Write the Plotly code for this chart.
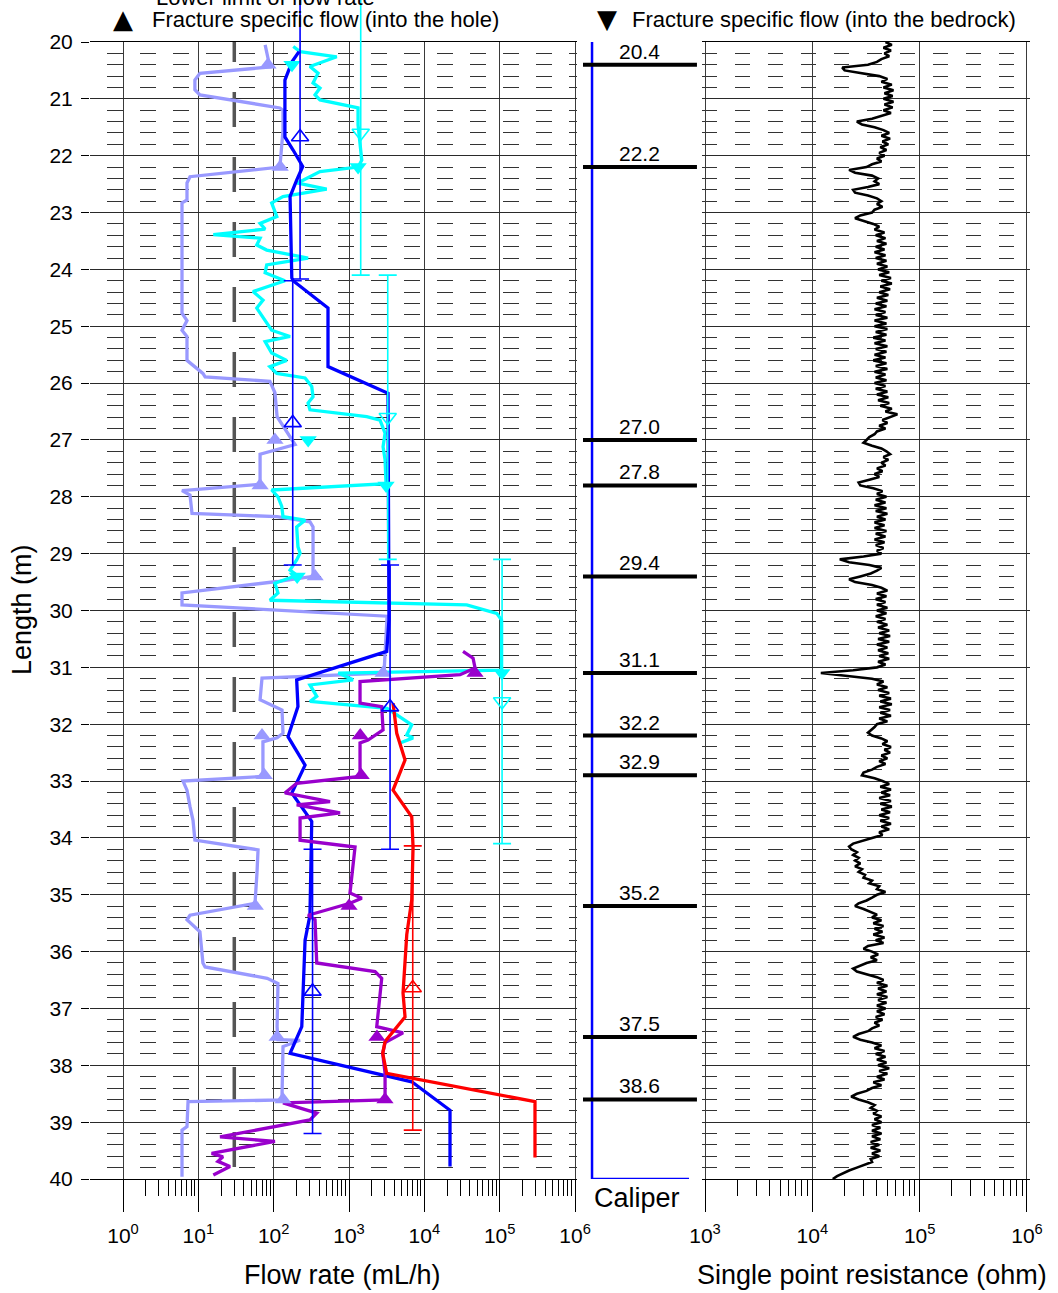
import plotly.graph_objects as go

W, H = 1058, 1293
FONT = "Liberation Sans, Arial, sans-serif"

# ---------------- data ----------------
fracture_depths = [20.4, 22.2, 27.0, 27.8, 29.4, 31.1, 32.2, 32.9, 35.2, 37.5, 38.6]
fracture_labels = ["20.4", "22.2", "27.0", "27.8", "29.4", "31.1", "32.2", "32.9", "35.2", "37.5", "38.6"]

lower_limit_flow = 30  # mL/h

# flow profile 1 (light purple)
lav_depth = [20.05, 20.44, 20.55, 20.67, 20.84, 20.93, 21.16, 21.2, 21.55, 21.72, 22.2, 22.37, 22.48,
             22.78, 22.83, 24.77, 24.9, 25.07, 25.18, 25.6, 25.83, 25.89, 25.97, 26.17, 26.59, 27.08,
             27.25, 27.78, 27.89, 27.97, 28.29, 28.35, 28.44, 28.53, 29.4, 29.49, 29.69, 29.9, 30.1,
             31.1, 31.13, 31.19, 31.57, 31.75, 32.16, 32.24, 32.31, 32.92, 33.0, 33.16, 33.45, 33.69,
             34.04, 34.21, 34.62, 35.15, 35.36, 35.44, 35.65, 36.2, 36.27, 36.47, 36.56, 37.32, 37.55,
             37.56, 37.67, 38.55, 38.61, 38.64, 39.08, 39.14, 39.96]
lav_flow = [77, 89, 10.5, 9.0, 9.0, 10.5, 121, 133, 133, 129, 121, 7.75, 7.07,
            7.07, 6.07, 6.07, 7.07, 6.07, 7.07, 7.07, 11.5, 12.3, 89, 104, 111, 192,
            66, 66, 6.07, 7.75, 8.24, 111, 303, 333, 333, 111, 6.07, 6.07, 3200,
            2915, 693, 70, 66, 129, 133, 111, 72, 72, 6.26, 7.07, 7.75, 8.5,
            9.0, 62, 60, 56.5, 7.75, 7.07, 10.5, 11.5, 12.3, 82, 114, 111, 114,
            224, 133, 129, 133, 7.3, 7.07, 6.07, 6.07]

# flow profile 2 (blue)
blue_depth = [20.17, 20.35, 20.67, 21.67, 21.9, 22.19, 22.43, 22.72, 24.15, 24.2, 24.68, 25.71, 26.18,
              30.17, 30.72, 31.22, 31.69, 32.22, 32.72, 33.21, 33.71, 35.36, 35.8, 36.79, 37.32, 37.79,
              38.29, 38.79, 39.78]
blue_flow = [217, 175, 141, 141, 181, 243, 202, 165, 174, 181, 526, 526, 3296,
             3390, 3165, 202, 210, 155, 261, 174, 320, 303, 261, 245, 236, 165,
             6800, 21900, 21900]

# flow profile 3 (cyan)
cyan_depth = [20.08, 20.17, 20.26, 20.43, 20.55, 20.72, 20.81, 20.93, 21.02, 21.16, 21.46, 22.08, 22.2,
              22.28, 22.43, 22.48, 22.59, 22.72, 22.83, 23.07, 23.19, 23.29, 23.39, 23.45, 23.57, 23.66,
              23.8, 23.92, 24.06, 24.2, 24.39, 24.54, 24.68, 25.07, 25.18, 25.27, 25.47, 25.6, 25.71,
              25.83, 25.91, 26.06, 26.24, 26.35, 26.47, 26.59, 26.65, 26.88, 27.12, 27.35, 27.77, 27.88,
              28.0, 28.17, 28.35, 28.41, 28.53, 28.88, 28.99, 29.11, 29.29, 29.38, 29.52, 29.69, 29.82,
              29.87, 29.9, 30.05, 30.17, 30.99, 31.05, 31.1, 31.16, 31.22, 31.31, 31.51, 31.6, 31.72,
              32.01, 32.19, 32.24, 32.33]
cyan_flow = [182, 224, 687, 303, 388, 333, 412, 354, 412, 1318, 1318, 1476, 1318,
             412, 245, 202, 506, 133, 94, 110, 66, 77, 15.8, 66, 59.6, 80.8,
             286, 80.8, 77, 141, 53.2, 72.2, 59.6, 94, 165, 77, 94, 149, 89,
             110, 261, 320, 333, 286, 303, 1718, 2580, 3010, 2830, 3010, 3100, 94,
             114, 128, 133, 261, 202, 210, 224, 202, 165, 204, 104, 114, 89,
             3200, 36500, 91400, 106000, 106000, 107000, 721, 933, 1130, 303, 373, 303, 3200,
             6800, 5840, 7080, 4755]

# flow profile 4 (purple)
purple_depth = [30.72, 30.84, 31.01, 31.13, 31.25, 31.63, 31.69, 32.1, 32.28, 32.33, 32.92, 33.04, 33.21,
                33.36, 33.42, 33.56, 33.65, 34.04, 34.16, 34.97, 35.06, 35.15, 35.36, 35.44, 36.2, 36.35,
                36.47, 37.32, 37.43, 37.6, 37.79, 38.14, 38.61, 38.66, 38.84, 38.96, 39.26, 39.34, 39.55,
                39.61, 39.69, 39.78, 39.93]
purple_flow = [32600, 44300, 47100, 29800, 1400, 1400, 2717, 2830, 1787, 1400, 1400, 202, 141,
               560, 202, 760, 224, 224, 1202, 1030, 1476, 1030, 286, 354, 373, 2214,
               2717, 2333, 5210, 3010, 2800, 3010, 3010, 133, 373, 303, 19.4, 104, 15,
               21.2, 18.2, 26.3, 15.8]

# flow profile 5 (red)
red_depth = [31.63, 31.93, 32.16, 32.63, 33.16, 33.63, 34.16, 35.09, 35.7, 36.73, 37.15, 37.58, 37.79,
             38.14, 38.64, 39.62]
red_flow = [3840, 4080, 4300, 5540, 3840, 6800, 7080, 6800, 5840, 5210, 5540, 3010, 2800,
            3160, 294000, 294000]

# fracture specific flow (filled markers)
lav_frac_depth = [20.4, 22.2, 27.0, 27.8, 29.4, 31.1, 32.2, 32.9, 35.2, 37.5, 38.6]
lav_frac_flow = [84, 122, 104, 66, 355, 2830, 70, 75, 57, 111, 133]
cyan_frac_depth = [20.4, 22.2, 27.0, 27.8, 29.4, 31.1]
cyan_frac_flow = [175, 1320, 287, 3100, 205, 107000]
purple_frac_depth = [31.1, 32.2, 32.9, 35.2, 37.5, 38.6]
purple_frac_flow = [47000, 1410, 1450, 1000, 2350, 3000]

# 5 m section flows (open markers, bar = section length)
section_half = 2.5
blue_sec_depth = [21.67, 26.7, 31.7, 36.7]
blue_sec_flow = [224, 179, 3505, 328]
cyan_sec_depth = [21.6, 26.6, 31.6]
cyan_sec_flow = [1430, 3265, 107500]
red_sec_depth = [36.64]
red_sec_flow = [7010]

# caliper (relative units)
caliper_depth = [20, 40, 40]
caliper_value = [0.115, 0.115, 0.91]

# single point resistance (kOhm), every 0.05 m from 20.00 to 40.00 (one row per metre)
spr_kohm = [
    48, 55, 46, 54, 47, 52, 44, 40, 33, 19, 20, 30, 42, 50, 44, 55, 46, 57, 47, 56,
    46, 57, 47, 56, 46, 54, 44, 36, 26, 29, 38, 46, 52, 44, 53, 45, 51, 43, 49, 42,
    47, 40, 44, 36, 32, 22, 25, 36, 41, 38, 42, 33, 24, 25, 33, 40, 44, 40, 45, 38,
    36, 28, 25, 31, 37, 42, 38, 47, 39, 48, 40, 49, 39, 47, 38, 48, 39, 49, 40, 50,
    41, 52, 42, 54, 44, 55, 43, 53, 42, 51, 40, 50, 39, 49, 38, 48, 39, 50, 38, 49,
    38, 50, 39, 49, 37, 48, 38, 50, 39, 49, 38, 48, 37, 49, 39, 50, 38, 48, 39, 49,
    38, 48, 39, 50, 40, 51, 41, 52, 43, 55, 48, 62, 52, 45, 50, 42, 48, 40, 38, 34,
    32, 30, 36, 44, 49, 53, 46, 51, 44, 48, 40, 45, 38, 42, 34, 27, 28, 37, 45, 40,
    49, 39, 48, 38, 49, 39, 50, 40, 48, 38, 47, 38, 49, 39, 48, 38, 47, 39, 46, 40,
    44, 30, 18, 22, 34, 44, 40, 35, 28, 22, 25, 36, 44, 50, 40, 49, 39, 48, 40, 50,
    40, 49, 39, 48, 40, 50, 41, 52, 42, 53, 41, 52, 40, 50, 41, 51, 42, 52, 41, 48,
    40, 24, 12, 22, 36, 46, 40, 50, 41, 52, 42, 54, 43, 55, 42, 53, 43, 54, 42, 50,
    40, 38, 35, 33, 36, 44, 50, 45, 54, 47, 53, 44, 50, 42, 48, 40, 36, 30, 29, 38,
    45, 52, 43, 54, 44, 53, 42, 54, 43, 55, 44, 53, 42, 52, 43, 54, 44, 52, 42, 45,
    36, 30, 24, 22, 23, 26, 24, 27, 25, 28, 25, 29, 27, 31, 30, 36, 34, 42, 40, 48,
    40, 36, 32, 27, 25, 30, 35, 40, 36, 44, 37, 46, 38, 45, 37, 47, 39, 46, 33, 30,
    36, 41, 35, 40, 32, 28, 24, 26, 32, 40, 46, 40, 50, 41, 49, 40, 50, 41, 49, 40,
    48, 40, 47, 39, 45, 38, 42, 36, 33, 27, 24, 28, 36, 44, 38, 47, 39, 48, 40, 49,
    41, 52, 42, 50, 40, 47, 37, 44, 36, 32, 26, 23, 27, 33, 38, 35, 40, 37, 44, 38,
    44, 36, 43, 36, 44, 36, 43, 35, 42, 35, 43, 36, 42, 35, 36, 30, 26, 22, 19, 17,
    15.5]
spr_ohm = [v * 1000 for v in spr_kohm]
spr_depth = [round(20 + 0.05 * i, 2) for i in range(len(spr_kohm))]

flow_ticks = [1, 10, 100, 1000, 10000, 100000, 1000000]
flow_ticktext = ["10<sup>0</sup>", "10<sup>1</sup>", "10<sup>2</sup>", "10<sup>3</sup>",
                 "10<sup>4</sup>", "10<sup>5</sup>", "10<sup>6</sup>"]
res_ticks = [1000, 10000, 100000, 1000000]
res_ticktext = ["10<sup>3</sup>", "10<sup>4</sup>", "10<sup>5</sup>", "10<sup>6</sup>"]

# ---------------- colours ----------------
LAV = "#9999FF"
BLUE = "#0000FF"
CYAN = "#00FFFF"
PURPLE = "#9900CC"
RED = "#FF0000"

# ---------------- layout geometry (pixels) ----------------
Y_TOP, Y_BOT = 42, 1179
L_X0, L_X1 = 90, 577.3
M_X0, M_X1 = 578, 700
R_X0, R_X1 = 701.8, 1030.2
PX_PER_M = (Y_BOT - Y_TOP) / 20.0
Y_TOP_EXT = 20 - Y_TOP / PX_PER_M   # depth at the very top of the page


def fx(p):
    return p / W


def fy(p):
    return 1 - p / H


fig = go.Figure()

# lower limit line
fig.add_trace(go.Scatter(x=[lower_limit_flow, lower_limit_flow], y=[19.736, 40], mode="lines",
                         line=dict(color="#555555", width=3.5, dash="35px,30px"),
                         xaxis="x", yaxis="y", hoverinfo="skip"))

# flow profiles
for d, v, c in [(lav_depth, lav_flow, LAV), (cyan_depth, cyan_flow, CYAN),
                (blue_depth, blue_flow, BLUE), (purple_depth, purple_flow, PURPLE),
                (red_depth, red_flow, RED)]:
    fig.add_trace(go.Scatter(x=v, y=d, mode="lines", line=dict(color=c, width=3.3),
                             xaxis="x", yaxis="y"))

# fracture specific flows
for d, v, c, sym in [(lav_frac_depth, lav_frac_flow, LAV, "triangle-up"),
                     (cyan_frac_depth, cyan_frac_flow, CYAN, "triangle-down"),
                     (purple_frac_depth, purple_frac_flow, PURPLE, "triangle-up")]:
    fig.add_trace(go.Scatter(x=v, y=d, mode="markers",
                             marker=dict(symbol=sym, size=15, color=c, line=dict(width=0)),
                             xaxis="x", yaxis="y", cliponaxis=False))

# section flows with section length bars (on an extended, hidden depth axis so the
# bars can run above the top of the grid as in the original)
for d, v, c, sym in [(blue_sec_depth, blue_sec_flow, BLUE, "triangle-up-open"),
                     (cyan_sec_depth, cyan_sec_flow, CYAN, "triangle-down-open"),
                     (red_sec_depth, red_sec_flow, RED, "triangle-up-open")]:
    fig.add_trace(go.Scatter(x=v, y=d, mode="markers",
                             marker=dict(symbol=sym, size=15, color=c, line=dict(width=1.6, color=c)),
                             error_y=dict(type="constant", value=section_half, color=c,
                                          thickness=1.6, width=9),
                             xaxis="x4", yaxis="y4", cliponaxis=False))

# caliper
fig.add_trace(go.Scatter(x=caliper_value, y=caliper_depth, mode="lines",
                         line=dict(color=BLUE, width=2.5), xaxis="x2", yaxis="y2", cliponaxis=False))

# fracture bars
bx, by = [], []
for d in fracture_depths:
    bx += [0.041, 0.975, None]
    by += [d, d, None]
fig.add_trace(go.Scatter(x=bx, y=by, mode="lines", line=dict(color="black", width=4),
                         xaxis="x2", yaxis="y2"))

# single point resistance
fig.add_trace(go.Scatter(x=spr_ohm, y=spr_depth, mode="lines",
                         line=dict(color="black", width=2.6), xaxis="x3", yaxis="y3"))

# ---------------- axes ----------------
minor_flow = [m * 10 ** k for k in range(0, 6) for m in range(2, 10)]
minor_res = [m * 10 ** k for k in range(3, 6) for m in range(2, 10)]

common_x = dict(type="log", showline=True, mirror=True, linecolor="black", linewidth=1,
                showgrid=True, gridcolor="#3a3a3a", gridwidth=1, zeroline=False,
                ticks="outside", ticklen=32, tickcolor="black", tickwidth=1,
                tickfont=dict(family=FONT, size=21, color="black"), ticklabelstandoff=6)

fig.update_layout(
    xaxis=dict(common_x, domain=[fx(L_X0), fx(L_X1)], range=[-0.438, 6.03],
               tickmode="array", tickvals=flow_ticks, ticktext=flow_ticktext,
               minor=dict(tickmode="array", tickvals=minor_flow, ticks="outside", ticklen=16,
                          tickcolor="black", showgrid=False),
               anchor="y"),
    yaxis=dict(domain=[fy(Y_BOT), fy(Y_TOP)], range=[40, 20], tick0=20, dtick=1,
               showline=False, zeroline=False, showgrid=True, gridcolor="#2a2a2a", gridwidth=1,
               ticks="outside", ticklen=8, tickcolor="black",
               tickfont=dict(family=FONT, size=21, color="black"), ticklabelstandoff=4,
               minor=dict(dtick=0.2, showgrid=True, gridcolor="#333333", gridwidth=1,
                          griddash="0px,17px,16px,0px", ticks=""),
               anchor="x"),
    xaxis2=dict(domain=[fx(M_X0), fx(M_X1)], range=[0, 1], visible=False, anchor="y2"),
    yaxis2=dict(domain=[fy(Y_BOT), fy(Y_TOP)], range=[40, 20], visible=False, anchor="x2"),
    xaxis3=dict(common_x, domain=[fx(R_X0), fx(R_X1)], range=[2.97, 6.03],
                tickmode="array", tickvals=res_ticks, ticktext=res_ticktext,
                minor=dict(tickmode="array", tickvals=minor_res, ticks="outside", ticklen=16,
                           tickcolor="black", showgrid=False),
                anchor="y3"),
    yaxis3=dict(domain=[fy(Y_BOT), fy(Y_TOP)], range=[40, 20], tick0=20, dtick=1,
                showline=False, zeroline=False, showgrid=True, gridcolor="#2a2a2a", gridwidth=1,
                showticklabels=False, ticks="",
                minor=dict(dtick=0.2, showgrid=True, gridcolor="#333333", gridwidth=1,
                           griddash="15px,18px", ticks=""),
                anchor="x3"),
    # hidden twin axes: same flow scale, depth scale extended to the top of the page
    xaxis4=dict(type="log", domain=[fx(L_X0), fx(L_X1)], range=[-0.438, 6.03],
                visible=False, showgrid=False, anchor="y4"),
    yaxis4=dict(domain=[fy(Y_BOT), 1], range=[40, Y_TOP_EXT], visible=False,
                showgrid=False, anchor="x4"),
)

# ---------------- text ----------------
ann = []


def txt(text, x, y, size, xanchor="center", angle=0, family=FONT):
    ann.append(dict(text=text, x=x, y=y, xref="paper", yref="paper", showarrow=False,
                    xanchor=xanchor, yanchor="middle", textangle=angle,
                    font=dict(family=family, size=size, color="black")))


txt("Lower limit of flow rate", fx(265), 1 + 3 / H, 22)
txt("▲", fx(123), fy(19), 26, family="DejaVu Sans")
txt("Fracture specific flow (into the hole)", fx(150), fy(19), 22, xanchor="left")
txt("▼", fx(607), fy(19), 26, family="DejaVu Sans")
txt("Fracture specific flow (into the bedrock)", fx(630), fy(19), 22, xanchor="left")
txt("Length (m)", fx(22), fy(610), 27, angle=-90)
txt("Flow rate (mL/h)", fx(342), fy(1275), 27)
txt("Single point resistance (ohm)", fx(872), fy(1275), 27)
txt("Caliper", fx(637), fy(1198), 27)

for d, lab in zip(fracture_depths, fracture_labels):
    ann.append(dict(text=lab, x=0.5, y=d, xref="x2", yref="y2", showarrow=False,
                    xanchor="center", yanchor="middle", yshift=13.5,
                    font=dict(family=FONT, size=21, color="black")))

fig.update_layout(
    annotations=ann,
    width=W, height=H, margin=dict(l=0, r=0, t=0, b=0, autoexpand=False),
    paper_bgcolor="white", plot_bgcolor="rgba(0,0,0,0)", showlegend=False,
    font=dict(family=FONT, color="black"),
)

fig.write_html("out.html", config={"displayModeBar": False},
               post_script="document.body.style.margin='0';document.body.style.overflow='hidden';")
